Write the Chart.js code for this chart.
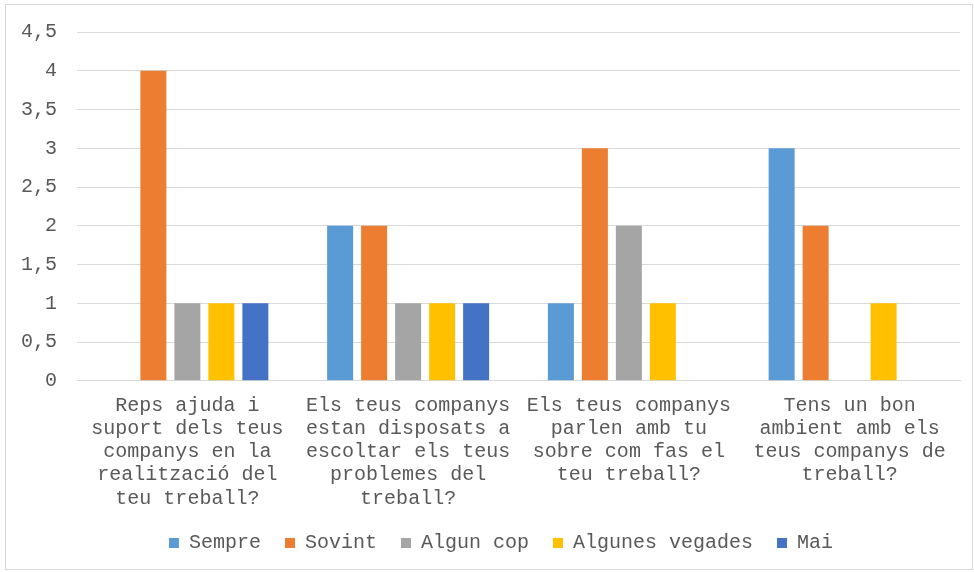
<!DOCTYPE html>
<html>
<head>
<meta charset="utf-8">
<script src="https://cdn.jsdelivr.net/npm/chart.js@4"></script>
<style>
html,body{margin:0;padding:0;background:#fff;}
#wrap{position:absolute;left:0;top:0;width:974px;height:572px;}
</style>
</head>
<body>
<div id="wrap"><canvas id="c"></canvas></div>
<script>
const categories = [
  ["Reps ajuda i", "suport dels teus", "companys en la", "realització del", "teu treball?"],
  ["Els teus companys", "estan disposats a", "escoltar els teus", "problemes del", "treball?"],
  ["Els teus companys", "parlen amb tu", "sobre com fas el", "teu treball?"],
  ["Tens un bon", "ambient amb els", "teus companys de", "treball?"]
];
const seriesNames = ["Sempre", "Sovint", "Algun cop", "Algunes vegades", "Mai"];
const sempre = [0, 2, 1, 3];
const sovint = [4, 2, 3, 2];
const algunCop = [1, 1, 2, 0];
const algunesVegades = [1, 1, 1, 1];
const mai = [1, 1, 0, 0];
const colors = ["#5B9BD5", "#ED7D31", "#A5A5A5", "#FFC000", "#4472C4"];
const yTicks = [0, 0.5, 1, 1.5, 2, 2.5, 3, 3.5, 4, 4.5];

const values = [sempre, sovint, algunCop, algunesVegades, mai];
const FONT = "'Liberation Mono', 'Courier New', monospace";

const borderPlugin = {
  id: 'outerBorder',
  afterLayout(chart) {
    if (chart.legend) { chart.legend.left = 42; }
  },
  beforeDraw(chart) {
    const ctx = chart.ctx;
    ctx.save();
    ctx.fillStyle = '#fff';
    ctx.fillRect(0, 0, chart.width, chart.height);
    ctx.strokeStyle = '#D9D9D9';
    ctx.lineWidth = 1;
    ctx.strokeRect(5.5, 4.5, 967, 565);
    ctx.restore();
  }
};

new Chart(document.getElementById('c'), {
  type: 'bar',
  data: {
    labels: categories,
    datasets: seriesNames.map((n, i) => ({
      label: n,
      data: values[i],
      backgroundColor: colors[i],
      borderWidth: 0,
      barPercentage: 0.765,
      categoryPercentage: 0.77
    }))
  },
  options: {
    responsive: true,
    maintainAspectRatio: false,
    animation: false,
    layout: { padding: { left: 0, right: 14, top: 30, bottom: 9 } },
    plugins: {
      legend: {
        position: 'bottom',
        labels: {
          font: { family: FONT, size: 20 },
          color: '#595959',
          boxWidth: 10,
          boxHeight: 10,
          padding: 24
        }
      },
      tooltip: { enabled: false }
    },
    scales: {
      x: {
        grid: { display: false },
        border: { display: true, color: '#D9D9D9' },
        afterFit(s) { s.height -= 6; },
        ticks: {
          font: { family: FONT, size: 20, lineHeight: 1.1625 },
          color: '#595959',
          maxRotation: 0,
          minRotation: 0,
          autoSkip: false,
          padding: 5
        }
      },
      y: {
        min: 0,
        max: 4.5,
        afterBuildTicks(axis) { axis.ticks = yTicks.map(v => ({ value: v })); },
        afterFit(s) { s.width = 77; },
        grid: { color: '#D9D9D9', drawTicks: false },
        border: { display: false },
        ticks: {
          font: { family: FONT, size: 20 },
          color: '#595959',
          padding: 20,
          callback: v => String(v).replace('.', ',')
        }
      }
    }
  },
  plugins: [borderPlugin]
});
</script>
</body>
</html>
